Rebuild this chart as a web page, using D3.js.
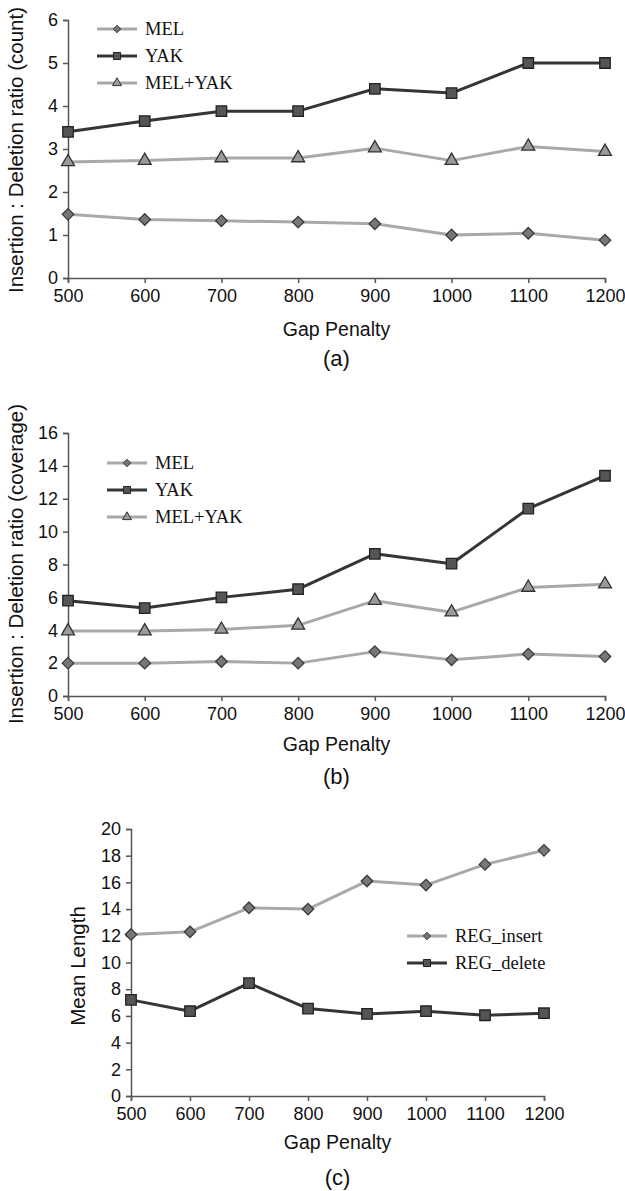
<!DOCTYPE html>
<html>
<head>
<meta charset="utf-8">
<script src="https://cdn.jsdelivr.net/npm/d3@7"></script>
<style>
  html, body { margin: 0; padding: 0; background: #fff; }
  svg { display: block; }
  .axis path, .axis line { stroke: #555; stroke-width: 1.5px; }
  .axis text { font-family: "Liberation Sans", Arial, sans-serif; font-size: 18px; fill: #111; }
  .lbl { font-family: "Liberation Sans", Arial, sans-serif; font-size: 19.5px; fill: #111; }
  .ylbl { font-family: "Liberation Sans", Arial, sans-serif; font-size: 20.5px; fill: #111; }
  .leg { font-family: "Liberation Serif", "Times New Roman", serif; font-size: 18.5px; fill: #111; }
</style>
</head>
<body>
<svg id="fig" width="625" height="1191"></svg>
<script>
// Gap penalties shared by all three panels
const gapPenalty = [500, 600, 700, 800, 900, 1000, 1100, 1200];

// (a) insertion : deletion ratio by count
const countMEL    = [1.48, 1.36, 1.33, 1.30, 1.26, 1.00, 1.04, 0.88];
const countYAK    = [3.40, 3.65, 3.88, 3.88, 4.40, 4.30, 5.00, 5.00];
const countMELYAK = [2.70, 2.73, 2.79, 2.79, 3.02, 2.73, 3.06, 2.94];
const countTicks  = [0, 1, 2, 3, 4, 5, 6];

// (b) insertion : deletion ratio by coverage
const covMEL    = [2.00, 2.00, 2.10, 2.00, 2.70, 2.20, 2.55, 2.40];
const covYAK    = [5.80, 5.35, 6.00, 6.50, 8.65, 8.05, 11.40, 13.40];
const covMELYAK = [3.95, 3.95, 4.05, 4.30, 5.80, 5.10, 6.60, 6.80];
const covTicks  = [0, 2, 4, 6, 8, 10, 12, 14, 16];

// (c) mean indel length
const regInsert = [12.10, 12.30, 14.10, 14.00, 16.10, 15.80, 17.35, 18.40];
const regDelete = [7.20, 6.35, 8.45, 6.55, 6.15, 6.35, 6.05, 6.20];
const lenTicks  = [0, 2, 4, 6, 8, 10, 12, 14, 16, 18, 20];

const svg = d3.select("#fig");

// line and marker styles per series kind
const styles = {
  MEL:    { line: "#a9a9a9", width: 3, shape: d3.symbolDiamond2,  size: 84,  fill: "#777",    stroke: "#3a3a3a", legSize: 36 },
  YAK:    { line: "#353535", width: 3, shape: d3.symbolSquare2,   size: 140, fill: "#555",    stroke: "#222",    legSize: 64 },
  MELYAK: { line: "#a9a9a9", width: 3, shape: d3.symbolTriangle2, size: 120, fill: "#9a9a9a", stroke: "#333",    legSize: 58 }
};

function panel(opt) {
  const g = svg.append("g");
  const x = d3.scaleLinear().domain([500, 1200]).range([opt.x0, opt.x1]);
  const y = d3.scaleLinear().domain([0, opt.ymax]).range([opt.y0, opt.y1]);

  g.append("g").attr("class", "axis")
    .attr("transform", `translate(0,${opt.y0})`)
    .call(d3.axisBottom(x).tickValues(gapPenalty).tickSize(5).tickPadding(6).tickFormat(d3.format("d")));
  g.append("g").attr("class", "axis")
    .attr("transform", `translate(${opt.x0},0)`)
    .call(d3.axisLeft(y).tickValues(opt.ticks).tickSize(5).tickPadding(5).tickFormat(d3.format("d")));

  opt.series.forEach(s => {
    const st = styles[s.kind];
    const pts = gapPenalty.map((gp, i) => [x(gp), y(s.values[i])]);
    g.append("path")
      .attr("d", d3.line()(pts))
      .attr("fill", "none")
      .attr("stroke", st.line)
      .attr("stroke-width", st.width)
      .attr("stroke-linejoin", "round");
    g.selectAll(null).data(pts).join("path")
      .attr("transform", d => `translate(${d[0]},${d[1]})`)
      .attr("d", d3.symbol().type(st.shape).size(st.size))
      .attr("fill", st.fill)
      .attr("stroke", st.stroke)
      .attr("stroke-width", 1.3);
  });

  // legend
  opt.series.forEach((s, i) => {
    const st = styles[s.kind];
    const ly = opt.legY + i * opt.legStep;
    g.append("line")
      .attr("x1", opt.legX).attr("x2", opt.legX + 40)
      .attr("y1", ly).attr("y2", ly)
      .attr("stroke", st.line).attr("stroke-width", st.width);
    g.append("path")
      .attr("transform", `translate(${opt.legX + 20},${ly})`)
      .attr("d", d3.symbol().type(st.shape).size(st.legSize))
      .attr("fill", st.fill).attr("stroke", st.stroke).attr("stroke-width", 1);
    g.append("text").attr("class", "leg")
      .attr("x", opt.legX + 48).attr("y", ly).attr("dy", "0.35em")
      .text(s.name);
  });

  // axis titles and panel letter
  g.append("text").attr("class", "ylbl")
    .attr("transform", `translate(${opt.ylabX},${opt.ylabY}) rotate(-90)`)
    .attr("text-anchor", "middle").attr("dy", "0.35em")
    .text(opt.ylabel);
  g.append("text").attr("class", "lbl")
    .attr("x", (opt.x0 + opt.x1) / 2).attr("y", opt.gpY)
    .attr("text-anchor", "middle").attr("dy", "0.35em")
    .text("Gap Penalty");
  g.append("text").attr("class", "lbl")
    .attr("x", (opt.x0 + opt.x1) / 2).attr("y", opt.capY)
    .attr("text-anchor", "middle").attr("dy", "0.35em")
    .style("font-size", "22px")
    .text(opt.caption);
}

panel({
  x0: 68, x1: 605, y0: 278, y1: 20, ymax: 6, ticks: countTicks,
  series: [
    { name: "MEL", kind: "MEL", values: countMEL },
    { name: "YAK", kind: "YAK", values: countYAK },
    { name: "MEL+YAK", kind: "MELYAK", values: countMELYAK }
  ],
  legX: 97, legY: 29, legStep: 27,
  ylabel: "Insertion : Deletion ratio (count)", ylabX: 16, ylabY: 150,
  gpY: 329, capY: 358, caption: "(a)"
});

panel({
  x0: 68, x1: 605, y0: 696, y1: 433, ymax: 16, ticks: covTicks,
  series: [
    { name: "MEL", kind: "MEL", values: covMEL },
    { name: "YAK", kind: "YAK", values: covYAK },
    { name: "MEL+YAK", kind: "MELYAK", values: covMELYAK }
  ],
  legX: 107, legY: 463, legStep: 27,
  ylabel: "Insertion : Deletion ratio (coverage)", ylabX: 16, ylabY: 564,
  gpY: 744, capY: 776, caption: "(b)"
});

panel({
  x0: 131, x1: 544, y0: 1096, y1: 829, ymax: 20, ticks: lenTicks,
  series: [
    { name: "REG_insert", kind: "MEL", values: regInsert },
    { name: "REG_delete", kind: "YAK", values: regDelete }
  ],
  legX: 407, legY: 936, legStep: 27,
  ylabel: "Mean Length", ylabX: 78, ylabY: 966,
  gpY: 1142, capY: 1177, caption: "(c)"
});
</script>
</body>
</html>
